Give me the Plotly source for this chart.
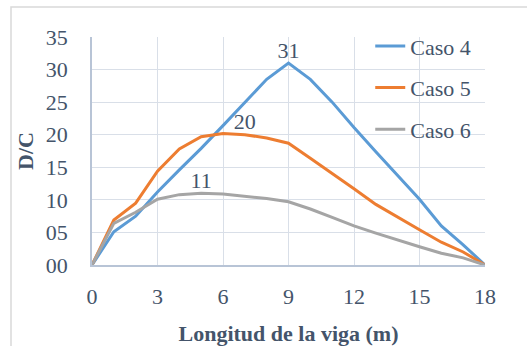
import plotly.graph_objects as go

# Longitud de la viga (m)
longitud = list(range(0, 19))

# Relación demanda/capacidad por caso
caso_4 = [0, 5.1, 7.5, 11.2, 14.6, 17.9, 21.4, 24.9, 28.5, 31,
          28.5, 25.0, 21.1, 17.4, 13.8, 10.1, 6.0, 3.1, 0]
caso_5 = [0, 6.9, 9.5, 14.4, 17.8, 19.7, 20.2, 20, 19.5, 18.7,
          16.4, 14.1, 11.7, 9.3, 7.3, 5.4, 3.5, 2.0, 0]
caso_6 = [0, 6.4, 8.1, 10.1, 10.8, 11, 10.9, 10.6, 10.2, 9.7,
          8.6, 7.3, 6.0, 4.9, 3.8, 2.8, 1.8, 1.1, 0]

series_names = ["Caso 4", "Caso 5", "Caso 6"]
series_values = [caso_4, caso_5, caso_6]
colors = ["#5B9BD5", "#ED7D31", "#A5A5A5"]
# Punto donde se rotula el valor máximo de cada caso
label_x = [9, 7, 5]

x_ticks = [0, 3, 6, 9, 12, 15, 18]
y_ticks = [0, 5, 10, 15, 20, 25, 30, 35]
y_tick_text = ["00", "05", "10", "15", "20", "25", "30", "35"]

TEXT = "#44546A"
GRID = "#D9DFE8"
FONT = "Times New Roman, Liberation Serif, serif"

fig = go.Figure()
for i, (name, vals, col, lx) in enumerate(zip(series_names, series_values, colors, label_x)):
    labels = [f"{v:g}" if x == lx else "" for x, v in zip(longitud, vals)]
    fig.add_trace(go.Scatter(
        x=longitud, y=vals, name=name, mode="lines+text",
        line=dict(color=col, width=3),
        text=labels, textposition="top center",
        textfont=dict(family=FONT, size=22, color=TEXT),
        legendgroup=f"g{i}",
    ))

fig.update_layout(
    width=527, height=346,
    margin=dict(l=92, r=42, t=37, b=81),
    paper_bgcolor="white", plot_bgcolor="white",
    font=dict(family=FONT, size=22, color=TEXT),
    showlegend=True,
    legend=dict(
        x=0.708, y=1.052, xanchor="left", yanchor="top",
        bgcolor="rgba(0,0,0,0)", borderwidth=0,
        font=dict(family=FONT, size=22, color=TEXT),
        traceorder="grouped", tracegroupgap=10,
        itemwidth=30,
    ),
    shapes=[dict(type="rect", xref="paper", yref="paper",
                 x0=-81 / 393, x1=1.2, y0=-0.6, y1=1 + 30 / 228,
                 line=dict(color="#D9D9D9", width=1.5), layer="below")],
)

fig.update_xaxes(
    range=[0, 18], tickvals=x_ticks, showgrid=True, gridcolor=GRID, gridwidth=1,
    zeroline=False, showline=True, linecolor="#B8C4D6", linewidth=1.5,
    ticks="", ticklabelstandoff=11, automargin=False,
    tickfont=dict(family=FONT, size=22, color=TEXT),
    title=dict(text="<b>Longitud de la viga (m)</b>", standoff=17,
               font=dict(family=FONT, size=22, color=TEXT)),
)
fig.update_yaxes(
    range=[0, 35], tickvals=y_ticks, ticktext=y_tick_text,
    showgrid=True, gridcolor=GRID, gridwidth=1,
    zeroline=False, showline=True, linecolor="#B8C4D6", linewidth=1.5,
    ticks="", ticklabelstandoff=18, automargin=False,
    tickfont=dict(family=FONT, size=22, color=TEXT),
    title=dict(text="<b>D/C</b>", standoff=6,
               font=dict(family=FONT, size=22, color=TEXT)),
)

fig.write_html("out.html")
